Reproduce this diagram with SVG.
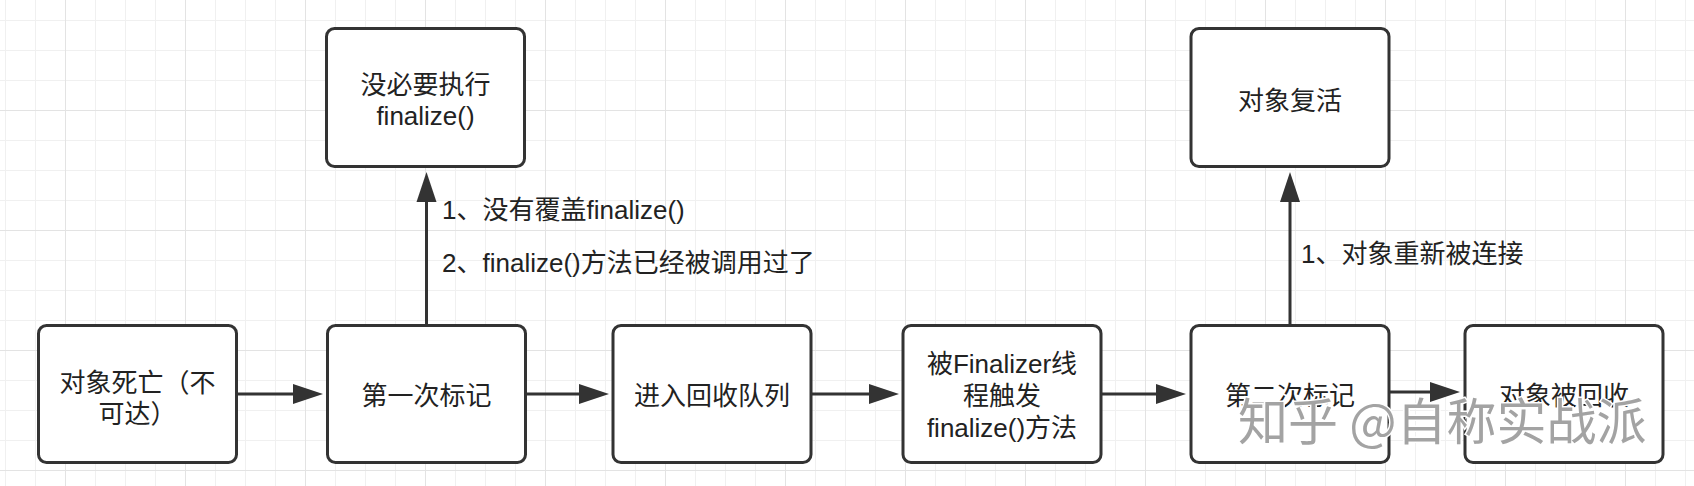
<svg xmlns="http://www.w3.org/2000/svg" width="1694" height="486" viewBox="0 0 1694 486">
  <defs>
    <pattern id="grid" patternUnits="userSpaceOnUse" x="65" y="110" width="120" height="120">
      <path d="M30.5 0V120M60.5 0V120M90.5 0V120M0 30.5H120M0 60.5H120M0 90.5H120" stroke="#f0f0f0" stroke-width="1" fill="none"/>
      <path d="M0.5 0V120M0 0.5H120" stroke="#e3e3e3" stroke-width="1" fill="none"/>
    </pattern>
    <marker id="arrow" markerUnits="userSpaceOnUse" markerWidth="32" markerHeight="22" refX="0" refY="10" orient="auto" overflow="visible">
      <path d="M0 0L30 10L0 20Z" fill="#333333"/>
    </marker>
    <style>
      .box { fill: #ffffff; stroke: #333333; stroke-width: 3; }
      .t { font-family: "Liberation Sans", "Noto Sans CJK SC", sans-serif; font-size: 26px; fill: #222222; }
      .c { text-anchor: middle; }
      .edge { stroke: #333333; stroke-width: 3; fill: none; marker-end: url(#arrow); }
      .wm { font-family: "Noto Sans CJK SC", "Liberation Sans", sans-serif; font-size: 50px; fill: #a3a3a3; stroke: #ffffff; stroke-width: 3; paint-order: stroke; }
    </style>
  </defs>
  <rect x="0" y="0" width="1694" height="486" fill="#ffffff"/>
  <rect x="0" y="0" width="1694" height="486" fill="url(#grid)"/>

  <g id="connectors">
    <path class="edge" d="M238 394H293"/>
    <path class="edge" d="M525 394H579"/>
    <path class="edge" d="M812 394H869"/>
    <path class="edge" d="M1102 394H1156"/>
    <path class="edge" d="M1390 392H1430"/>
    <path class="edge" d="M426.5 324V202"/>
    <path class="edge" d="M1290 324V202"/>
  </g>

  <g id="edge-labels">
    <text class="t" x="442" y="219">1、没有覆盖finalize()</text>
    <text class="t" x="442" y="271.5">2、finalize()方法已经被调用过了</text>
    <text class="t" x="1301" y="263">1、对象重新被连接</text>
  </g>

  <g id="node-dead">
    <rect class="box" x="38.5" y="325.5" width="198" height="137" rx="8"/>
    <text class="t c" x="137.5" y="391.5">对象死亡（不</text>
    <text class="t c" x="137.5" y="422.5">可达）</text>
  </g>
  <g id="node-first-mark">
    <rect class="box" x="327.5" y="325.5" width="198" height="137" rx="8"/>
    <text class="t c" x="426.5" y="405">第一次标记</text>
  </g>
  <g id="node-no-need">
    <rect class="box" x="326.5" y="28.5" width="198" height="138" rx="8"/>
    <text class="t c" x="425.5" y="93.5">没必要执行</text>
    <text class="t c" x="425.5" y="125">finalize()</text>
  </g>
  <g id="node-queue">
    <rect class="box" x="613" y="325.5" width="198" height="137" rx="8"/>
    <text class="t c" x="712" y="405">进入回收队列</text>
  </g>
  <g id="node-finalizer">
    <rect class="box" x="903" y="325.5" width="198" height="137" rx="8"/>
    <text class="t c" x="1002" y="373">被Finalizer线</text>
    <text class="t c" x="1002" y="405">程触发</text>
    <text class="t c" x="1002" y="437">finalize()方法</text>
  </g>
  <g id="node-second-mark">
    <rect class="box" x="1191" y="325.5" width="198" height="137" rx="8"/>
    <text class="t c" x="1290" y="405">第二次标记</text>
  </g>
  <g id="node-revive">
    <rect class="box" x="1191" y="28.5" width="198" height="138" rx="8"/>
    <text class="t c" x="1290" y="109.5">对象复活</text>
  </g>
  <g id="node-collected">
    <rect class="box" x="1465" y="325.5" width="198" height="137" rx="8"/>
    <text class="t c" x="1564" y="405">对象被回收</text>
  </g>

  <text class="wm" x="1238" y="440">知乎 @自称实战派</text>
</svg>
